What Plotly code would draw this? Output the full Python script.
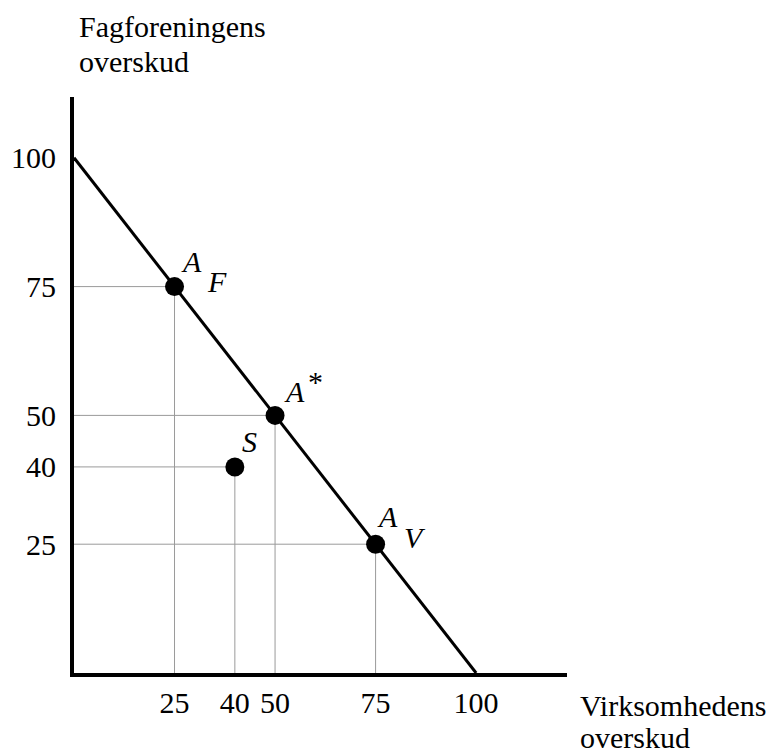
import plotly.graph_objects as go

# ---- data ----
frontier_x = [0, 100]
frontier_y = [100, 0]

point_names = ["A_F", "A*", "S", "A_V"]
point_x = [25, 50, 40, 75]
point_y = [75, 50, 40, 25]

x_ticks = [25, 40, 50, 75, 100]
y_ticks = [25, 40, 50, 75, 100]

x_title_lines = ["Virksomhedens", "overskud"]
y_title_lines = ["Fagforeningens", "overskud"]

FONT = "Liberation Serif, Times New Roman, serif"
FS = 30

# page body has an 8px margin; figure is sized to fit the visible window
OFF = 8
W, H = 774 - OFF, 753 - OFF
# plot area in screen pixels
SL, ST, SR, SB = 74, 97, 567, 673
ML, MT = SL - OFF, ST - OFF
MR, MB = W - (SR - OFF), H - (SB - OFF)
PW, PH = W - ML - MR, H - MT - MB


def sx(p):  # screen x pixel -> paper
    return (p - OFF - ML) / PW


def sy(p):  # screen y pixel -> paper
    return (H - MB - (p - OFF)) / PH


fig = go.Figure()

# drop lines from each point to the axes
for px, py in zip(point_x, point_y):
    fig.add_trace(go.Scatter(
        x=[0, px, px], y=[py, py, 0], mode="lines",
        line=dict(color="#9a9a9a", width=1), hoverinfo="skip", showlegend=False))

# frontier
fig.add_trace(go.Scatter(
    x=frontier_x, y=frontier_y, mode="lines",
    line=dict(color="black", width=3), showlegend=False))

# points
fig.add_trace(go.Scatter(
    x=point_x, y=point_y, mode="markers",
    marker=dict(color="black", size=19), cliponaxis=False, showlegend=False))

# point labels: pieces with pixel offsets from the point
label_parts = {
    "A_F": [("<i>A</i>", 17, 25), ("<i>F</i>", 42, 5)],
    "A*": [("<i>A</i>", 19, 24), ("*", 40, 34)],
    "S": [("<i>S</i>", 15, 25)],
    "A_V": [("<i>A</i>", 12, 28), ("<i>V</i>", 39, 7)],
}
for name, px, py in zip(point_names, point_x, point_y):
    for txt, dx, dy in label_parts[name]:
        fig.add_annotation(
            x=px, y=py, xref="x", yref="y", text=txt, showarrow=False,
            xshift=dx, yshift=dy, xanchor="center", yanchor="middle",
            font=dict(family=FONT, size=FS, color="black"))

# axis titles (one annotation per line for tight spacing)
for txt, ypix in zip(y_title_lines, [26, 61]):
    fig.add_annotation(
        x=sx(77), y=sy(ypix), xref="paper", yref="paper",
        text=txt, showarrow=False, xanchor="left", yanchor="middle",
        font=dict(family=FONT, size=FS, color="black"))
for txt, ypix in zip(x_title_lines, [705, 737]):
    fig.add_annotation(
        x=sx(578), y=sy(ypix), xref="paper", yref="paper",
        text=txt, showarrow=False, xanchor="left", yanchor="middle",
        font=dict(family=FONT, size=FS, color="black"))

fig.update_layout(
    width=W, height=H,
    margin=dict(l=ML, r=MR, t=MT, b=MB, autoexpand=False),
    paper_bgcolor="white", plot_bgcolor="white",
    font=dict(family=FONT, size=FS, color="black"),
    showlegend=False,
)
fig.update_xaxes(
    range=[0, 122.6], tickvals=x_ticks, ticktext=[str(v) for v in x_ticks],
    showgrid=False, zeroline=False, showline=True, linecolor="black", linewidth=4,
    ticks="", automargin=False,
    tickfont=dict(family=FONT, size=FS, color="black"))
fig.update_yaxes(
    range=[0, 111.8], tickvals=y_ticks, ticktext=[str(v) for v in y_ticks],
    showgrid=False, zeroline=False, showline=True, linecolor="black", linewidth=4,
    ticks="outside", ticklen=8, tickcolor="rgba(0,0,0,0)", automargin=False,
    tickfont=dict(family=FONT, size=FS, color="black"))

fig.write_html("out.html")
